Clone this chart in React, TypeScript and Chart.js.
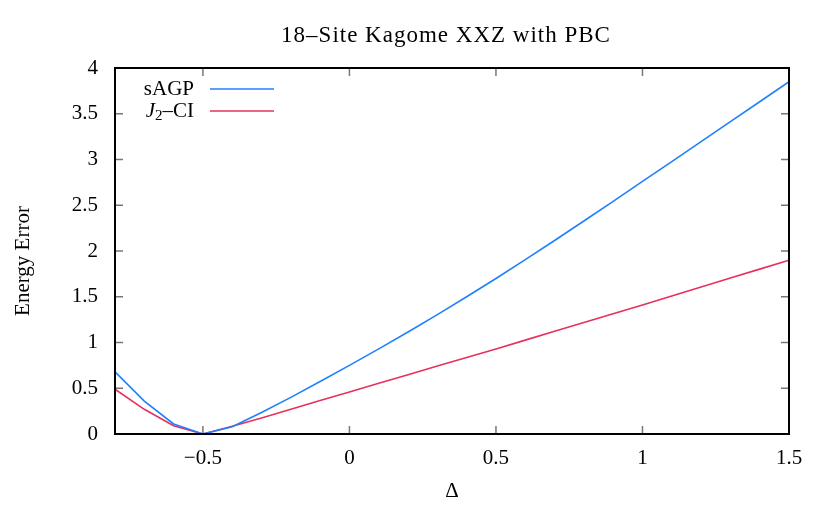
import React, { useEffect, useRef } from "react";
import { Chart, registerables } from "chart.js";

Chart.register(...registerables);

const deltas = [-0.8, -0.7, -0.6, -0.5, -0.4, -0.3, -0.2, -0.1, 0, 0.1, 0.2, 0.3, 0.4, 0.5, 0.6, 0.7, 0.8, 0.9, 1.0, 1.1, 1.2, 1.3, 1.4, 1.5];
const sagp = [0.68, 0.36, 0.11, 0.0, 0.08, 0.235, 0.4, 0.573, 0.75, 0.93, 1.115, 1.305, 1.5, 1.7, 1.905, 2.115, 2.328, 2.543, 2.76, 2.977, 3.195, 3.413, 3.631, 3.85];
const j2ci = [0.49, 0.27, 0.09, 0.0, 0.085, 0.175, 0.27, 0.365, 0.46, 0.554, 0.648, 0.742, 0.836, 0.93, 1.026, 1.122, 1.218, 1.314, 1.41, 1.508, 1.606, 1.704, 1.802, 1.9];
const xTicks = [-0.5, 0, 0.5, 1, 1.5];
const yTicks = [0, 0.5, 1, 1.5, 2, 2.5, 3, 3.5, 4];
const TITLE = "18\u2013Site Kagome XXZ with PBC";
const Y_TITLE = "Energy Error";

const FONT = "'Liberation Serif', serif";
const FS = 21;
const BLUE = "#1f80ff";
const RED = "#e8305a";

const framePlugin = {
  id: "frame",
  afterDatasetsDraw(chart: any) {
    const { ctx, chartArea: a, scales } = chart;
    ctx.save();
    ctx.strokeStyle = "#777";
    ctx.lineWidth = 1.5;
    const tl = 8;
    ctx.beginPath();
    for (const v of xTicks) {
      const x = scales.x.getPixelForValue(v);
      ctx.moveTo(x, a.bottom);
      ctx.lineTo(x, a.bottom - tl);
      ctx.moveTo(x, a.top);
      ctx.lineTo(x, a.top + tl);
    }
    for (const v of yTicks) {
      const y = scales.y.getPixelForValue(v);
      ctx.moveTo(a.left, y);
      ctx.lineTo(a.left + tl, y);
      ctx.moveTo(a.right, y);
      ctx.lineTo(a.right - tl, y);
    }
    ctx.stroke();
    ctx.strokeStyle = "#000";
    ctx.lineWidth = 2;
    ctx.strokeRect(a.left, a.top, a.right - a.left, a.bottom - a.top);

    // title
    ctx.fillStyle = "#000";
    ctx.textAlign = "center";
    ctx.textBaseline = "alphabetic";
    ctx.font = `23px ${FONT}`;
    try {
      (ctx as any).letterSpacing = "1px";
    } catch (e) {}
    ctx.fillText(TITLE, 446, 42);
    try {
      (ctx as any).letterSpacing = "0px";
    } catch (e) {}

    // y title
    ctx.save();
    ctx.translate(23, 261);
    ctx.rotate(-Math.PI / 2);
    ctx.font = `${FS}px ${FONT}`;
    ctx.textBaseline = "middle";
    ctx.fillText(Y_TITLE, 0, 0);
    ctx.restore();

    // legend
    const tx = 194;
    const y1 = 89;
    const y2 = 111;
    ctx.textBaseline = "middle";
    ctx.textAlign = "right";
    ctx.font = `${FS}px ${FONT}`;
    ctx.fillText("sAGP", tx, y1);
    const rest = "\u2013CI";
    ctx.fillText(rest, tx, y2);
    const wRest = ctx.measureText(rest).width;
    ctx.font = `15px ${FONT}`;
    const sub = "2";
    ctx.fillText(sub, tx - wRest, y2 + 5);
    const wSub = ctx.measureText(sub).width;
    ctx.font = `italic ${FS}px ${FONT}`;
    ctx.fillText("J", tx - wRest - wSub, y2);
    ctx.lineWidth = 1.6;
    ctx.strokeStyle = BLUE;
    ctx.beginPath();
    ctx.moveTo(210, y1);
    ctx.lineTo(274, y1);
    ctx.stroke();
    ctx.strokeStyle = RED;
    ctx.beginPath();
    ctx.moveTo(210, y2);
    ctx.lineTo(274, y2);
    ctx.stroke();
    ctx.restore();
  },
};

export default function App() {
  const ref = useRef<HTMLCanvasElement | null>(null);
  useEffect(() => {
    if (!ref.current) return;
    const chart = new Chart(ref.current, {
      type: "line",
      data: {
        datasets: [
          {
            label: "sAGP",
            data: deltas.map((d, i) => ({ x: d, y: sagp[i] })),
            borderColor: BLUE,
            borderWidth: 1.6,
            pointRadius: 0,
            tension: 0,
          },
          {
            label: "J2-CI",
            data: deltas.map((d, i) => ({ x: d, y: j2ci[i] })),
            borderColor: RED,
            borderWidth: 1.6,
            pointRadius: 0,
            tension: 0,
          },
        ],
      },
      options: {
        animation: false,
        responsive: false,
        devicePixelRatio: 1,
        layout: { padding: { left: 0, right: 41, top: 68, bottom: 0 } },
        plugins: {
          legend: { display: false },
          tooltip: { enabled: false },
          title: { display: false },
        },
        scales: {
          x: {
            type: "linear",
            min: -0.8,
            max: 1.5,
            afterBuildTicks: (s: any) => {
              s.ticks = xTicks.map((v) => ({ value: v }));
            },
            afterFit: (s: any) => {
              s.height = 74;
            },
            grid: { display: false, drawTicks: false },
            border: { display: false },
            ticks: {
              color: "#000",
              padding: 12,
              font: { family: FONT, size: FS },
              callback: (v: any) => String(v).replace("-", "\u2212"),
            },
            title: {
              display: true,
              text: "\u0394",
              color: "#000",
              font: { family: FONT, size: FS },
              padding: { top: 6, bottom: 4 },
            },
          },
          y: {
            type: "linear",
            min: 0,
            max: 4,
            afterBuildTicks: (s: any) => {
              s.ticks = yTicks.map((v) => ({ value: v }));
            },
            afterFit: (s: any) => {
              s.width = 115;
            },
            grid: { display: false, drawTicks: false },
            border: { display: false },
            ticks: {
              color: "#000",
              padding: 17,
              font: { family: FONT, size: FS },
              callback: (v: any) => String(v),
            },
            title: { display: false },
          },
        },
      },
      plugins: [framePlugin],
    } as any);
    return () => chart.destroy();
  }, []);
  return (
    <div style={{ position: "fixed", left: 0, top: 0, width: 830, height: 508, background: "#fff" }}>
      <canvas ref={ref} width={830} height={508} style={{ width: 830, height: 508 }} />
    </div>
  );
}
